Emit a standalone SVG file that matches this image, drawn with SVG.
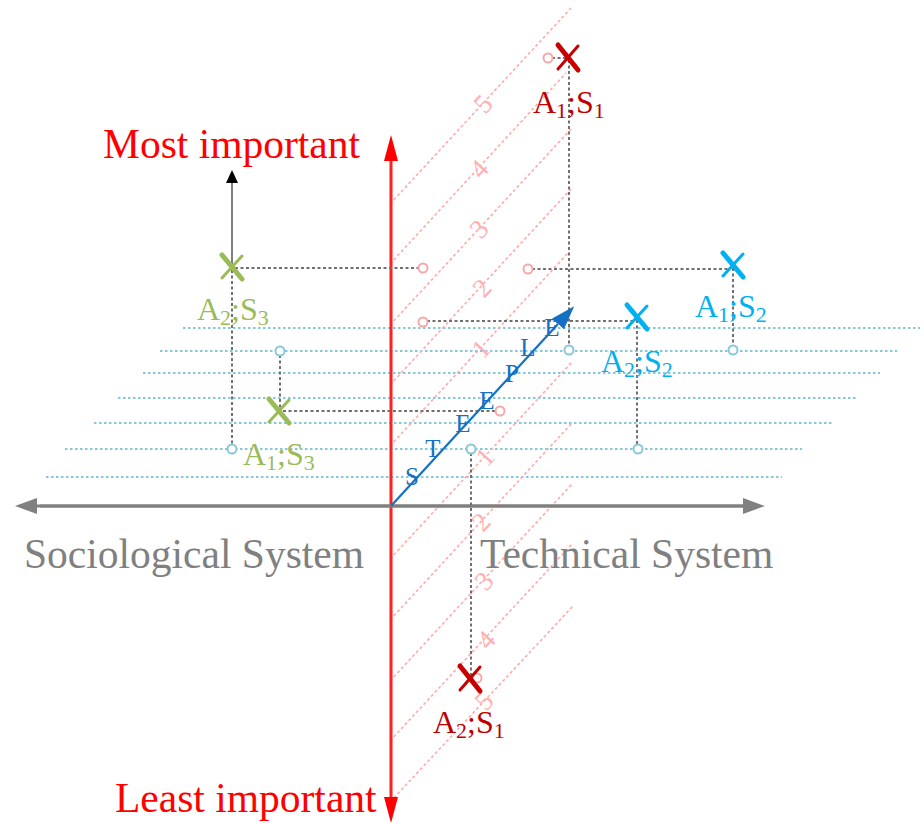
<svg xmlns="http://www.w3.org/2000/svg" width="924" height="823" viewBox="0 0 924 823">
<style>
.bl{stroke:#86c8da;stroke-width:2;stroke-dasharray:2.5 2.5;fill:none}
.pk{stroke:#ffabab;stroke-width:1.6;stroke-dasharray:3 2.5;fill:none}
.gd{stroke:#707070;stroke-width:2;stroke-dasharray:3 2.5;fill:none}
.pc{stroke:#f7a8a8;stroke-width:2;fill:#fff}
.bc{stroke:#86c8da;stroke-width:2;fill:#fff}
.dg{font-family:"Liberation Serif",serif;font-size:27px;fill:#ffb0b0;text-anchor:middle;dominant-baseline:central}
.big{font-family:"Liberation Serif",serif;font-size:41.5px}
.lab{font-family:"Liberation Serif",serif;font-size:32px}
.sub{font-size:22px}
.st{font-family:"Liberation Serif",serif;font-size:25px;fill:#1470c4;text-anchor:middle}
</style>
<defs>
<marker id="ared" markerWidth="26" markerHeight="14" refX="0" refY="7" orient="auto" markerUnits="userSpaceOnUse"><path d="M0,0 L26,7 L0,14 z" fill="#ff0000"/></marker>
<marker id="agray" markerWidth="22" markerHeight="16" refX="0" refY="8" orient="auto" markerUnits="userSpaceOnUse"><path d="M0,0 L22,8 L0,16 z" fill="#808080"/></marker>
<marker id="ablk" markerWidth="14" markerHeight="12" refX="0" refY="6" orient="auto" markerUnits="userSpaceOnUse"><path d="M0,0 L13,6 L0,12 z" fill="#000"/></marker>
<marker id="ablue" markerWidth="24" markerHeight="16" refX="0" refY="8" orient="auto" markerUnits="userSpaceOnUse"><path d="M0,0 L24,8 L0,16 z" fill="#1470c4"/></marker>
</defs>

<g id="grid-rows">
<line class="bl" x1="183" y1="328" x2="920" y2="328"/>
<line class="bl" x1="160" y1="351" x2="897" y2="351"/>
<line class="bl" x1="143" y1="373" x2="880" y2="373"/>
<line class="bl" x1="118" y1="398" x2="857" y2="398"/>
<line class="bl" x1="94" y1="423" x2="832" y2="423"/>
<line class="bl" x1="65" y1="449" x2="802" y2="449"/>
<line class="bl" x1="46" y1="477" x2="782" y2="477"/>
</g>

<g id="scale-lines">
<line class="pk" x1="390" y1="204" x2="571" y2="8"/>
<line class="pk" x1="390" y1="264" x2="566" y2="73"/>
<line class="pk" x1="390" y1="325" x2="571" y2="129"/>
<line class="pk" x1="390" y1="385" x2="571" y2="189"/>
<line class="pk" x1="390" y1="446" x2="569" y2="252"/>
<line class="pk" x1="390" y1="559" x2="572" y2="362"/>
<line class="pk" x1="390" y1="620" x2="572" y2="423"/>
<line class="pk" x1="390" y1="681" x2="572" y2="484"/>
<line class="pk" x1="390" y1="741" x2="572" y2="544"/>
<line class="pk" x1="390" y1="802" x2="573" y2="606"/>
<text class="dg" transform="translate(483,104) rotate(-47)">5</text>
<text class="dg" transform="translate(479,169) rotate(-47)">4</text>
<text class="dg" transform="translate(479,229) rotate(-47)">3</text>
<text class="dg" transform="translate(482,288) rotate(-47)">2</text>
<text class="dg" transform="translate(481,349) rotate(-47)">1</text>
<text class="dg" transform="translate(485,457) rotate(-47)">1</text>
<text class="dg" transform="translate(481,522) rotate(-47)">2</text>
<text class="dg" transform="translate(484,581) rotate(-47)">3</text>
<text class="dg" transform="translate(486,640) rotate(-47)">4</text>
<text class="dg" transform="translate(484,701) rotate(-47)">5</text>
</g>

<g id="axes">
<line x1="391" y1="800" x2="391" y2="161" stroke="#ff2020" stroke-width="2.6" marker-end="url(#ared)"/>
<line x1="391" y1="161" x2="391" y2="797" stroke="#ff2020" stroke-width="2.6" marker-end="url(#ared)"/>
<line x1="40" y1="506" x2="743" y2="506" stroke="#808080" stroke-width="3" marker-end="url(#agray)"/>
<line x1="743" y1="506" x2="37" y2="506" stroke="#808080" stroke-width="3" marker-end="url(#agray)"/>
</g>

<g id="connectors">
<path class="gd" d="M552,58 H567 M569,60 V346"/>
<path class="gd" d="M532,269 H730 M733,268 V346"/>
<path class="gd" d="M427,321 H635 M637,320 V445"/>
<path class="gd" d="M235,268 H419 M232,270 V445"/>
<path class="gd" d="M280,355 V408 M283,411 H496"/>
<path class="gd" d="M471,453 V676"/>
<line x1="232" y1="265" x2="232" y2="183" stroke="#555" stroke-width="1.5" marker-end="url(#ablk)"/>
</g>

<g id="steeple">
<line x1="391" y1="506" x2="558" y2="324" stroke="#1470c4" stroke-width="2.2" marker-end="url(#ablue)"/>
<text class="st" x="412" y="485">S</text>
<text class="st" x="433" y="457">T</text>
<text class="st" x="463" y="432">E</text>
<text class="st" x="487" y="409">E</text>
<text class="st" x="512" y="382">P</text>
<text class="st" x="528" y="356">L</text>
<text class="st" x="552" y="336">E</text>
</g>

<g id="points">
<circle class="pc" cx="548" cy="58" r="4.5"/>
<circle class="pc" cx="528" cy="269" r="4.5"/>
<circle class="pc" cx="423" cy="268" r="4.5"/>
<circle class="pc" cx="423" cy="322" r="4.5"/>
<circle class="pc" cx="500" cy="411" r="4.5"/>
<circle class="pc" cx="477" cy="678" r="4.5"/>
<circle class="bc" cx="569" cy="350" r="4.5"/>
<circle class="bc" cx="733" cy="350" r="4.5"/>
<circle class="bc" cx="638" cy="449" r="4.5"/>
<circle class="bc" cx="280" cy="351" r="4.5"/>
<circle class="bc" cx="232" cy="449" r="4.5"/>
<circle class="bc" cx="471" cy="449" r="4.5"/>
</g>

<g id="A1S1">
<path d="M558,45 L578,70" stroke="#c80000" stroke-width="5" stroke-linecap="round"/>
<path d="M578,46 L558,69" stroke="#c80000" stroke-width="3" stroke-linecap="round"/>
<text class="lab" x="533" y="113" fill="#c00000">A<tspan class="sub" dy="5">1</tspan><tspan dy="-5">;S</tspan><tspan class="sub" dy="5">1</tspan></text>
</g>
<g id="A2S1">
<path d="M460,666 L480,691" stroke="#c80000" stroke-width="5" stroke-linecap="round"/>
<path d="M480,667 L460,690" stroke="#c80000" stroke-width="3" stroke-linecap="round"/>
<text class="lab" x="433" y="733" fill="#c00000">A<tspan class="sub" dy="5">2</tspan><tspan dy="-5">;S</tspan><tspan class="sub" dy="5">1</tspan></text>
</g>
<g id="A1S2">
<path d="M723,253 L743,277" stroke="#00b0f0" stroke-width="5" stroke-linecap="round"/>
<path d="M743,254 L723,276" stroke="#00b0f0" stroke-width="3" stroke-linecap="round"/>
<text class="lab" x="695" y="317" fill="#00b0f0">A<tspan class="sub" dy="5">1</tspan><tspan dy="-5">;S</tspan><tspan class="sub" dy="5">2</tspan></text>
</g>
<g id="A2S2">
<path d="M627,305 L647,329" stroke="#00b0f0" stroke-width="5" stroke-linecap="round"/>
<path d="M647,306 L627,328" stroke="#00b0f0" stroke-width="3" stroke-linecap="round"/>
<text class="lab" x="601" y="372" fill="#00b0f0">A<tspan class="sub" dy="5">2</tspan><tspan dy="-5">;S</tspan><tspan class="sub" dy="5">2</tspan></text>
</g>
<g id="A2S3">
<path d="M222,255 L242,279" stroke="#9bbb59" stroke-width="5" stroke-linecap="round"/>
<path d="M242,256 L222,278" stroke="#9bbb59" stroke-width="3" stroke-linecap="round"/>
<text class="lab" x="197" y="320" fill="#9bbb59">A<tspan class="sub" dy="5">2</tspan><tspan dy="-5">;S</tspan><tspan class="sub" dy="5">3</tspan></text>
</g>
<g id="A1S3">
<path d="M269,399 L289,423" stroke="#9bbb59" stroke-width="5" stroke-linecap="round"/>
<path d="M289,400 L269,422" stroke="#9bbb59" stroke-width="3" stroke-linecap="round"/>
<text class="lab" x="243" y="465" fill="#9bbb59">A<tspan class="sub" dy="5">1</tspan><tspan dy="-5">;S</tspan><tspan class="sub" dy="5">3</tspan></text>
</g>

<g id="labels">
<text class="big" x="103" y="158" fill="#ff0000">Most important</text>
<text class="big" x="115" y="812" fill="#ff0000">Least important</text>
<text class="big" x="24" y="568" fill="#808080">Sociological System</text>
<text class="big" x="480" y="568" fill="#808080">Technical System</text>
</g>
</svg>
